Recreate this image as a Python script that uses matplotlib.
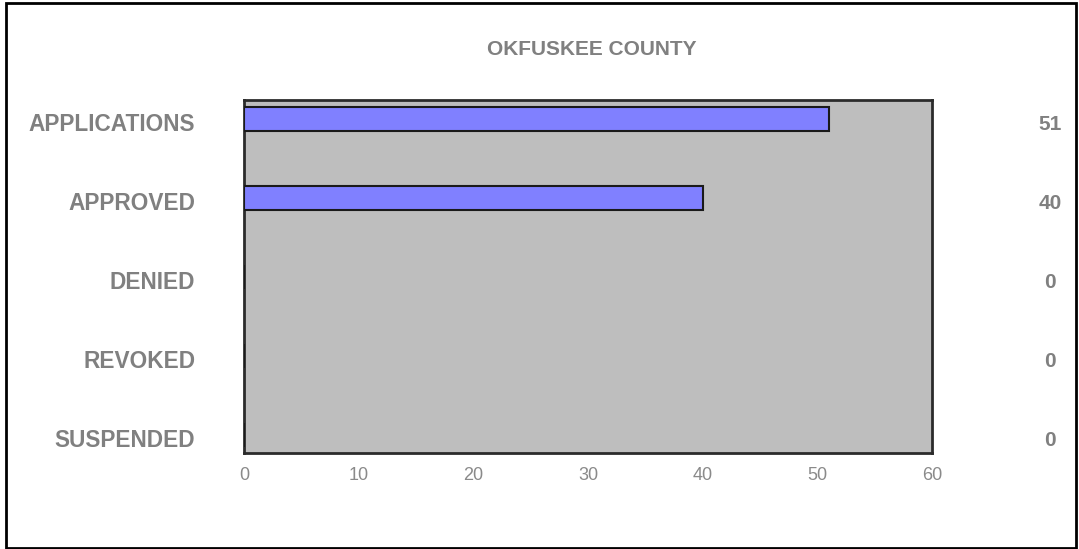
import matplotlib
matplotlib.use("Agg")
import matplotlib.pyplot as plt
import matplotlib.transforms as mtransforms
from matplotlib.patches import Rectangle

plt.rcParams['font.family'] = ['Liberation Sans', 'DejaVu Sans']

title = "OKFUSKEE COUNTY"
categories = ["APPLICATIONS", "APPROVED", "DENIED", "REVOKED", "SUSPENDED"]
values = [51, 40, 0, 0, 0]
xticks = [0, 10, 20, 30, 40, 50, 60]

TEXT = '#808080'
W, H = 1079, 549

fig = plt.figure(figsize=(W / 100, H / 100), dpi=100)
fig.patch.set_facecolor('white')

# plot area in pixel terms of the reference
ax = fig.add_axes([244 / W, 1 - 453 / H, (932 - 244) / W, (453 - 100) / H])
ax.set_facecolor('#BEBEBE')

ypos = list(range(len(categories)))
ax.barh(ypos, values, height=0.31, color='#8080FF', edgecolor='#1a1a1a',
        linewidth=1.5, zorder=3)

ax.set_xlim(0, 60)
ax.set_ylim(4.23, -0.24)
ax.set_xticks(xticks)
ax.set_xticklabels([str(t) for t in xticks], color='#8a8a8a', fontsize=13)
ax.tick_params(axis='x', length=0, pad=10)

ax.set_yticks(ypos)
ax.set_yticklabels(categories, color=TEXT, fontsize=16.3, fontweight='bold')
ax.tick_params(axis='y', length=0, pad=35)
for lbl in ax.get_yticklabels():
    lbl.set_transform(lbl.get_transform() +
                      mtransforms.ScaledTranslation(0, -2 / 72, fig.dpi_scale_trans))

for sp in ax.spines.values():
    sp.set_color('#2b2b2b')
    sp.set_linewidth(2)

# value column on the right
trans = mtransforms.blended_transform_factory(ax.transAxes, ax.transData)
for y, v in zip(ypos, values):
    ax.annotate(str(v), xy=(1.1715, y), xycoords=trans, xytext=(0, -4),
                textcoords='offset points', ha='center', va='center',
                color=TEXT, fontsize=15, fontweight='bold', annotation_clip=False)

fig.text(592 / W, 1 - 55 / H, title, ha='center', va='baseline',
         color=TEXT, fontsize=15, fontweight='bold')

# outer frame
fig.patches.append(Rectangle((6 / W, 1 / H), (1076 - 6) / W, (546 - 1) / H,
                             transform=fig.transFigure, fill=False,
                             edgecolor='black', linewidth=2))

fig.savefig('out.png', dpi=100, facecolor='white')
